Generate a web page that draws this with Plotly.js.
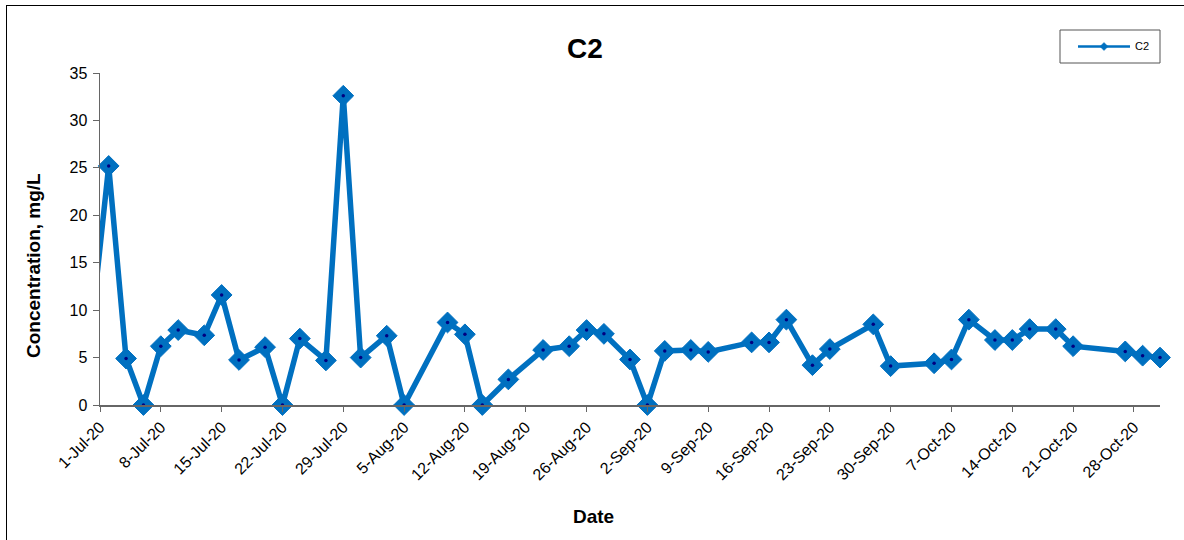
<!DOCTYPE html>
<html>
<head>
<meta charset="utf-8">
<script src="https://cdn.plot.ly/plotly-3.0.1.min.js"></script>
<style>
  html, body { margin: 0; padding: 0; background: #fff; }
  #wrap { position: relative; width: 1184px; height: 540px; }
  #chart { width: 1184px; height: 540px; }
  #frame { position: absolute; left: 6px; top: 5px; right: -2px; bottom: -2px;
           border-left: 1.5px solid #000; border-top: 1.5px solid #000; pointer-events: none; }
</style>
</head>
<body>
<div id="wrap">
  <div id="chart"></div>
  <div id="frame"></div>
</div>
<script>
const seriesName = 'C2';
const dates = [
  '2020-06-30','2020-07-02','2020-07-04','2020-07-06','2020-07-08','2020-07-10','2020-07-13',
  '2020-07-15','2020-07-17','2020-07-20','2020-07-22','2020-07-24','2020-07-27',
  '2020-07-29','2020-07-31','2020-08-03','2020-08-05','2020-08-10','2020-08-12',
  '2020-08-14','2020-08-17','2020-08-21','2020-08-24','2020-08-26','2020-08-28',
  '2020-08-31','2020-09-02','2020-09-04','2020-09-07','2020-09-09','2020-09-14',
  '2020-09-16','2020-09-18','2020-09-21','2020-09-23','2020-09-28','2020-09-30',
  '2020-10-05','2020-10-07','2020-10-09','2020-10-12','2020-10-14','2020-10-16',
  '2020-10-19','2020-10-21','2020-10-27','2020-10-29','2020-10-31'
];
const values = [
  8.0, 25.2, 4.9, 0, 6.2, 7.9, 7.35,
  11.6, 4.75, 6.1, 0, 7.0, 4.7,
  32.6, 5.0, 7.3, 0, 8.7, 7.45,
  0, 2.7, 5.8, 6.2, 7.9, 7.5,
  4.8, 0, 5.7, 5.8, 5.6, 6.6,
  6.6, 9.0, 4.2, 5.9, 8.5, 4.1,
  4.4, 4.8, 9.0, 6.85, 6.85, 8.0,
  8.0, 6.2, 5.65, 5.2, 5.0
];
const xRange = ['2020-07-01', '2020-10-31'];
const yRange = [0, 35];

const blue = '#0070C0';
const navy = '#000080';
const fontFam = 'Arial, Liberation Sans, sans-serif';

// points inside the axis range get markers; the line runs through all of them
const inRange = dates.map((d, i) => d >= xRange[0] && d <= xRange[1]);
const mDates = dates.filter((d, i) => inRange[i]);
const mValues = values.filter((v, i) => inRange[i]);

const traces = [
  {
    x: dates, y: values, type: 'scatter', mode: 'lines',
    line: { color: blue, width: 5.5 },
    showlegend: false, hoverinfo: 'skip'
  },
  {
    x: mDates, y: mValues, type: 'scatter', mode: 'markers', name: seriesName,
    marker: { symbol: 'diamond', size: 16, color: blue, line: { color: blue, width: 1 } },
    cliponaxis: false, showlegend: false
  },
  {
    x: mDates, y: mValues, type: 'scatter', mode: 'markers',
    marker: { symbol: 'circle', size: 3.5, color: navy },
    cliponaxis: false, showlegend: false, hoverinfo: 'skip'
  }
];

// pixel -> paper helpers for the legend box
const L = 100, R = 1160, T = 73, B = 405;
const px = v => (v - L) / (R - L);
const py = v => (B - v) / (B - T);

const legY = 46.5, dx = 4, dy = 4, cx = 1104;
const shapes = [
  { type: 'rect', xref: 'paper', yref: 'paper', x0: px(1060), x1: px(1160), y0: py(63), y1: py(30),
    line: { color: '#555', width: 1 }, fillcolor: '#fff', layer: 'above' },
  { type: 'line', xref: 'paper', yref: 'paper', x0: px(1078), x1: px(1130), y0: py(legY), y1: py(legY),
    line: { color: blue, width: 2.5 }, layer: 'above' },
  { type: 'path', xref: 'paper', yref: 'paper', layer: 'above',
    path: `M ${px(cx)} ${py(legY - dy)} L ${px(cx + dx)} ${py(legY)} L ${px(cx)} ${py(legY + dy)} L ${px(cx - dx)} ${py(legY)} Z`,
    fillcolor: blue, line: { color: blue, width: 0.5 } }
];

const annotations = [
  { text: seriesName, xref: 'paper', yref: 'paper', x: px(1133), y: py(legY), xanchor: 'left', yanchor: 'middle',
    showarrow: false, font: { size: 11, color: '#000', family: fontFam } },
  { text: '<b>Concentration, mg/L</b>', xref: 'paper', yref: 'paper', x: px(33), y: py(266),
    xanchor: 'center', yanchor: 'middle', textangle: -90, showarrow: false,
    font: { size: 19, color: '#000', family: fontFam } },
  { text: '<b>Date</b>', xref: 'paper', yref: 'paper', x: px(593), y: py(516),
    xanchor: 'center', yanchor: 'middle', showarrow: false,
    font: { size: 19, color: '#000', family: fontFam } }
];

const layout = {
  width: 1184, height: 540,
  margin: { l: L, r: 1184 - R, t: T, b: 540 - B },
  paper_bgcolor: '#fff', plot_bgcolor: '#fff',
  font: { family: fontFam, color: '#000' },
  title: {
    text: '<b>C2</b>', font: { size: 28, color: '#000', family: fontFam },
    x: 585 / 1184, xanchor: 'center', y: 1 - 48 / 540, yanchor: 'middle', xref: 'container', yref: 'container'
  },
  xaxis: {
    type: 'date', range: xRange,
    tick0: '2020-07-01', dtick: 7 * 86400000,
    tickformat: '%-d-%b-%y', tickangle: -45,
    ticks: 'outside', ticklen: 5, tickcolor: '#666', tickwidth: 1,
    showline: true, linecolor: '#666', linewidth: 1.5,
    showgrid: false, zeroline: false,
    tickfont: { family: fontFam, size: 16, color: '#000' }
  },
  yaxis: {
    range: yRange, dtick: 5, tick0: 0,
    ticks: 'outside', ticklen: 6, tickcolor: '#666', tickwidth: 1,
    showline: true, linecolor: '#666', linewidth: 1.5,
    showgrid: false, zeroline: false,
    tickfont: { family: fontFam, size: 16, color: '#000' },
    ticklabelstandoff: 2
  },
  shapes: shapes,
  annotations: annotations,
  showlegend: false
};

Plotly.newPlot('chart', traces, layout, { displayModeBar: false, staticPlot: true });
</script>
</body>
</html>
